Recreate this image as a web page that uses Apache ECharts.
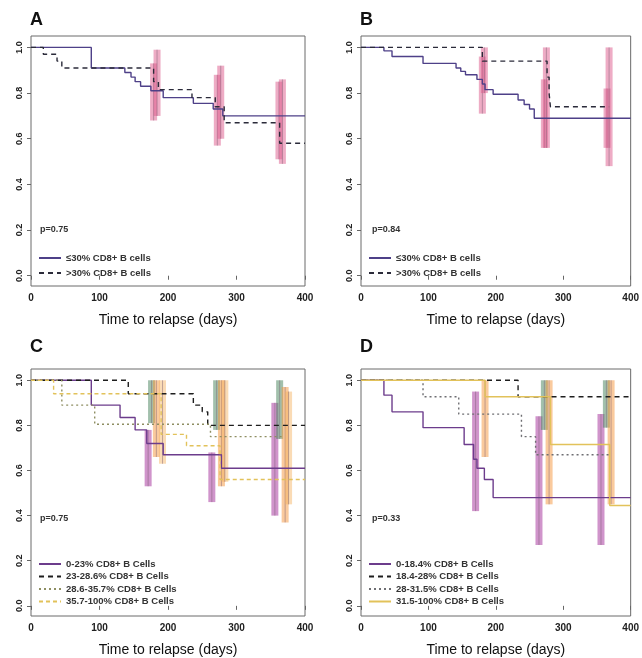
<!DOCTYPE html>
<html><head><meta charset="utf-8">
<script src="https://cdn.jsdelivr.net/npm/echarts@6/dist/echarts.min.js"></script>
<style>html,body{margin:0;padding:0;background:#fff}#c{width:642px;height:658px}</style>
</head><body><div id="c"></div>
<script>
// ---------- data ----------
const xTicks = [0, 100, 200, 300, 400];
const yTicks = [0, 0.2, 0.4, 0.6, 0.8, 1.0];
const panelLetters = ['A', 'B', 'C', 'D'];
const pValues = ['p=0.75', 'p=0.84', 'p=0.75', 'p=0.33'];
const xTitle = 'Time to relapse (days)';

const legendAB = ['≤30% CD8+ B cells', '>30% CD8+ B cells'];
const legendC = ['0-23% CD8+ B Cells', '23-28.6% CD8+ B Cells', '28.6-35.7% CD8+ B Cells', '35.7-100% CD8+ B Cells'];
const legendD = ['0-18.4% CD8+ B Cells', '18.4-28% CD8+ B Cells', '28-31.5% CD8+ B Cells', '31.5-100% CD8+ B Cells'];

// Panel A
const aDays1 = [0, 88, 137, 146, 152, 160, 175, 193, 237, 266, 280, 400];
const aSurv1 = [1, 0.91, 0.89, 0.87, 0.85, 0.83, 0.81, 0.78, 0.755, 0.73, 0.70, 0.70];
const aDays2 = [0, 18, 38, 45, 179, 186, 235, 269, 282, 363, 400];
const aSurv2 = [1, 0.97, 0.94, 0.91, 0.85, 0.815, 0.78, 0.74, 0.67, 0.58, 0.58];
const aErr1 = [[179, 0.68, 0.93], [272, 0.57, 0.88], [362, 0.51, 0.85]];
const aErr2 = [[184, 0.70, 0.99], [277, 0.60, 0.92], [367, 0.49, 0.86]];

// Panel B
const bDays1 = [0, 34, 46, 92, 141, 148, 155, 172, 180, 184, 196, 233, 242, 250, 257, 400];
const bSurv1 = [1, 0.985, 0.96, 0.93, 0.91, 0.895, 0.88, 0.86, 0.84, 0.815, 0.795, 0.77, 0.75, 0.73, 0.69, 0.69];
const bDays2 = [0, 180, 276, 279, 281, 368];
const bSurv2 = [1, 0.94, 0.87, 0.80, 0.74, 0.74];
const bErr1 = [[180, 0.71, 0.96], [272, 0.56, 0.86], [365, 0.56, 0.82]];
const bErr2 = [[183, 0.80, 1.0], [275, 0.56, 1.0], [368, 0.48, 1.0]];

// Panel C
const cDays1 = [0, 88, 130, 152, 169, 193, 278, 400];
const cSurv1 = [1, 0.89, 0.835, 0.78, 0.72, 0.67, 0.61, 0.61];
const cDays2 = [0, 142, 237, 250, 258, 400];
const cSurv2 = [1, 0.94, 0.89, 0.86, 0.80, 0.80];
const cDays3 = [0, 45, 93, 262, 368];
const cSurv3 = [1, 0.89, 0.805, 0.75, 0.75];
const cDays4 = [0, 33, 190, 227, 276, 400];
const cSurv4 = [1, 0.94, 0.76, 0.71, 0.56, 0.56];
const cErr1 = [[171, 0.53, 0.78], [264, 0.46, 0.68], [356, 0.40, 0.90]];
const cErr2 = [[176, 0.81, 1.0], [271, 0.78, 1.0], [363, 0.74, 1.0]];
const cErr3 = [[183, 0.66, 1.0], [278, 0.53, 1.0], [371, 0.37, 0.97]];
const cErr4 = [[192, 0.63, 1.0], [283, 0.55, 1.0], [376, 0.45, 0.95]];

// Panel D
const dDays1 = [0, 34, 46, 92, 153, 167, 172, 183, 196, 400];
const dSurv1 = [1, 0.934, 0.86, 0.79, 0.715, 0.65, 0.61, 0.56, 0.48, 0.48];
const dDays2 = [0, 233, 400];
const dSurv2 = [1, 0.927, 0.927];
const dDays3 = [0, 92, 145, 238, 259, 368];
const dSurv3 = [1, 0.927, 0.85, 0.75, 0.67, 0.67];
const dDays4 = [0, 184, 281, 369, 400];
const dSurv4 = [1, 0.927, 0.715, 0.445, 0.445];
const dErr1 = [[170, 0.42, 0.95], [264, 0.27, 0.84], [356, 0.27, 0.85]];
const dErr2 = [[272, 0.78, 1.0], [364, 0.79, 1.0]];
const dErr4 = [[184, 0.66, 1.0], [279, 0.45, 1.0], [371, 0.45, 1.0]];

// ---------- chart ----------
const pair = (d, s) => d.map((v, i) => [v, s[i]]);
const grids = [
  { left: 31, top: 36, width: 274, height: 250 },
  { left: 361, top: 36, width: 275, height: 250 },
  { left: 31, top: 369, width: 274, height: 250 },
  { left: 361, top: 369, width: 275, height: 250 }
];
const series = [];
function line(gi, name, data, color, type, width) {
  series.push({
    type: 'line', name, xAxisIndex: gi, yAxisIndex: gi, data, step: 'end',
    symbol: 'none', lineStyle: { color, type: type || 'solid', width: width || 1.4 },
    itemStyle: { color }, animation: false, z: 3
  });
}
function err(gi, data, color) {
  series.push({
    type: 'custom', xAxisIndex: gi, yAxisIndex: gi, data, animation: false, z: 2,
    renderItem: function (params, api) {
      const top = api.coord([api.value(0), api.value(2)]);
      const bot = api.coord([api.value(0), api.value(1)]);
      return {
        type: 'group', children: [
          { type: 'rect', shape: { x: top[0] - 3.5, y: top[1], width: 7, height: bot[1] - top[1] }, style: { fill: color } },
          { type: 'line', shape: { x1: top[0], y1: top[1], x2: bot[0], y2: bot[1] }, style: { stroke: 'rgba(120,90,110,0.45)', lineWidth: 1 } }
        ]
      };
    },
    encode: { x: 0, y: [1, 2] }
  });
}
const PINK = 'rgba(222,90,140,0.5)';
const PURP = 'rgba(170,60,160,0.55)';
const GREEN = 'rgba(70,130,90,0.5)';
const ORANGE = 'rgba(245,150,60,0.5)';
const ORANGE2 = 'rgba(245,175,90,0.45)';

err(0, aErr1, PINK); err(0, aErr2, PINK);
line(0, legendAB[0], pair(aDays1, aSurv1), '#4e4088', 'solid');
line(0, legendAB[1], pair(aDays2, aSurv2), '#2b2b3a', [5, 4]);

err(1, bErr1, PINK); err(1, bErr2, PINK);
line(1, legendAB[0], pair(bDays1, bSurv1), '#4e4088', 'solid');
line(1, legendAB[1], pair(bDays2, bSurv2), '#2b2b3a', [5, 4]);

err(2, cErr1, PURP); err(2, cErr2, GREEN); err(2, cErr3, ORANGE); err(2, cErr4, ORANGE2);
line(2, legendC[0], pair(cDays1, cSurv1), '#6c3c8c', 'solid');
line(2, legendC[1], pair(cDays2, cSurv2), '#1e1e1e', [5, 4]);
line(2, legendC[2], pair(cDays3, cSurv3), '#8e8e62', [2, 3]);
line(2, legendC[3], pair(cDays4, cSurv4), '#e2c25a', [4, 3]);

err(3, dErr1, PURP); err(3, dErr2, GREEN); err(3, dErr4, ORANGE);
line(3, legendD[0], pair(dDays1, dSurv1), '#6c3c8c', 'solid');
line(3, legendD[1], pair(dDays2, dSurv2), '#1e1e1e', [5, 4]);
line(3, legendD[2], pair(dDays3, dSurv3), '#6e6e72', [2, 3]);
line(3, legendD[3], pair(dDays4, dSurv4), '#e2c25a', 'solid');

const xAxes = grids.map((g, i) => ({
  type: 'value', gridIndex: i, min: 0, max: 400, interval: 100,
  axisLine: { show: false }, splitLine: { show: false },
  axisTick: { inside: false, length: 4, lineStyle: { color: '#666' } },
  axisLabel: { fontSize: 10, fontWeight: 'bold', color: '#222', margin: 7, fontFamily: 'Liberation Sans' },
  name: xTitle, nameLocation: 'middle', nameGap: 27,
  nameTextStyle: { fontSize: 14, color: '#111', fontFamily: 'Liberation Sans' }
}));
const yAxes = grids.map((g, i) => ({
  type: 'value', gridIndex: i, min: -0.045, max: 1.05,
  axisLine: { show: false }, splitLine: { show: false },
  axisTick: { inside: false, length: 4, lineStyle: { color: '#666' }, customValues: yTicks },
  axisLabel: { fontSize: 9, fontWeight: 'bold', color: '#222', margin: 7, rotate: 90,
    fontFamily: 'Liberation Sans', customValues: yTicks, formatter: v => v.toFixed(1) }
}));

const legends = [
  { data: legendAB, left: 38, top: 253, gap: 5 },
  { data: legendAB, left: 368, top: 253, gap: 5 },
  { data: legendC, left: 38, top: 559, gap: 2.5 },
  { data: legendD, left: 368, top: 559, gap: 2.5 }
].map(l => ({
  data: l.data, left: l.left, top: l.top, orient: 'vertical', itemWidth: 22, itemHeight: 8,
  itemGap: l.gap, padding: 0, selectedMode: false,
  itemStyle: { opacity: 0 },
  textStyle: { fontSize: 9.5, color: '#333', fontFamily: 'Liberation Sans', fontWeight: 'bold' }
}));

const letterPos = [[30, 11], [360, 11], [30, 338], [360, 338]];
const pPos = [[40, 225], [372, 225], [40, 514], [372, 514]];
const graphic = [];
panelLetters.forEach((t, i) => graphic.push({ type: 'text', left: letterPos[i][0], top: letterPos[i][1],
  style: { text: t, fontSize: 18, fontWeight: 'bold', fill: '#111', fontFamily: 'Liberation Sans' } }));
pValues.forEach((t, i) => graphic.push({ type: 'text', left: pPos[i][0], top: pPos[i][1],
  style: { text: t, fontSize: 9, fontWeight: 'bold', fill: '#333', fontFamily: 'Liberation Sans' } }));

const chart = echarts.init(document.getElementById('c'), null, { renderer: 'canvas' });
chart.setOption({
  backgroundColor: '#fff', animation: false,
  grid: grids.map(g => Object.assign({ show: true, borderColor: '#6a6a6a', borderWidth: 1, backgroundColor: 'transparent' }, g)),
  xAxis: xAxes, yAxis: yAxes, legend: legends, series, graphic
});
</script></body></html>
